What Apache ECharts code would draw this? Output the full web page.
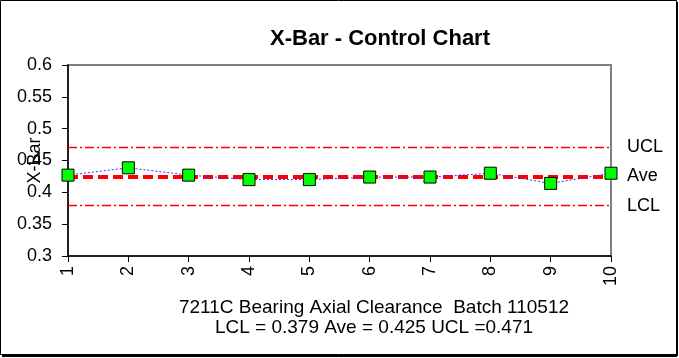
<!DOCTYPE html>
<html><head><meta charset="utf-8">
<script src="https://cdn.jsdelivr.net/npm/echarts@6/dist/echarts.min.js"></script>
<style>html,body{margin:0;padding:0;background:#fff}#c{width:679px;height:358px}</style>
</head><body><div id="c"></div>
<script>
var categories = ['1','2','3','4','5','6','7','8','9','10'];
var xbarValues = [0.427,0.4385,0.427,0.420,0.420,0.424,0.424,0.430,0.414,0.430];
var LCL = 0.379, AVE = 0.425, UCL = 0.471;
var FONT = 'Liberation Sans';
var chart = echarts.init(document.getElementById('c'));
chart.setOption({
  animation:false,
  textStyle:{fontFamily:FONT},
  title:[{text:'X-Bar - Control Chart',left:375,top:23,textAlign:'center',textStyle:{fontFamily:FONT,fontSize:22,fontWeight:'bold',color:'#000'}},
         {text:'7211C Bearing Axial Clearance  Batch 110512\nLCL = 0.379 Ave = 0.425 UCL =0.471',left:369,top:293,textAlign:'center',textStyle:{fontFamily:FONT,fontSize:19,fontWeight:'normal',color:'#000',lineHeight:20}}],
  graphic:[{type:'rect',shape:{x:0.5,y:0.5,width:676,height:354},style:{fill:'none',stroke:'#000',lineWidth:1}},
           {type:'line',shape:{x1:677,y1:2,x2:677,y2:356},style:{stroke:'#000',lineWidth:2}},
           {type:'line',shape:{x1:2,y1:356,x2:677,y2:356},style:{stroke:'#000',lineWidth:2}}],
  grid:{left:68,right:68,top:65,bottom:102,show:true,borderColor:'#808080',borderWidth:2,backgroundColor:'transparent',outerBoundsMode:'none',containLabel:false},
  xAxis:{type:'category',data:categories,boundaryGap:false,
    axisLine:{lineStyle:{color:'#000',width:1.5}},
    axisTick:{alignWithLabel:true,length:6,lineStyle:{color:'#000'}},
    axisLabel:{rotate:90,color:'#000',fontSize:18,fontFamily:FONT,margin:10},
    splitLine:{show:false}},
  yAxis:{type:'value',min:0.3,max:0.6,interval:0.05,name:'X-Bar',nameLocation:'middle',nameGap:24,nameMoveOverlap:false,
    nameTextStyle:{fontSize:18,color:'#000',fontFamily:FONT},
    axisLine:{show:true,lineStyle:{color:'#000',width:1.5}},
    axisTick:{show:true,length:6,lineStyle:{color:'#000'}},
    axisLabel:{color:'#000',fontSize:18,fontFamily:FONT,margin:16,formatter:function(v){return String(+v.toFixed(2));}},
    splitLine:{show:false}},
  series:[
   {type:'line',data:xbarValues,symbol:'rect',symbolSize:12,
    lineStyle:{color:'#3333ff',width:1,type:[2,2]},
    itemStyle:{color:'#00ff00',borderColor:'#000',borderWidth:1},
    z:5,
    markLine:{silent:true,symbol:'none',z:4,precision:3,
      lineStyle:{color:'#ff0000',width:4,type:[10,5]},
      label:{show:true,position:'end',distance:16,color:'#000',fontSize:18,fontFamily:FONT},
      data:[{yAxis:AVE,name:'Ave',label:{formatter:'Ave'}}]}},
   {type:'line',data:[],z:3,
    markLine:{silent:true,symbol:'none',precision:3,
      lineStyle:{color:'#ff0000',width:1.3,type:[9,3,2,3],opacity:1},
      label:{show:true,position:'end',distance:16,color:'#000',fontSize:18,fontFamily:FONT},
      data:[{yAxis:UCL,name:'UCL',label:{formatter:'UCL'}},{yAxis:LCL,name:'LCL',label:{formatter:'LCL'}}]}}
  ]
});
</script></body></html>
